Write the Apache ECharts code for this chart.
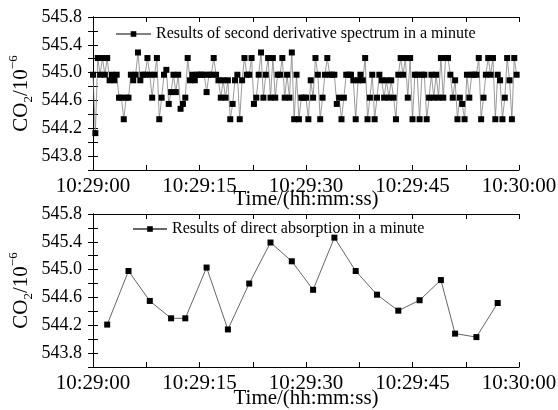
<!DOCTYPE html>
<html>
<head>
<meta charset="utf-8">
<script src="https://cdn.jsdelivr.net/npm/echarts@6/dist/echarts.min.js"></script>
<style>
  html, body { margin: 0; padding: 0; background: #fff; }
  #chart { width: 558px; height: 410px; }
</style>
</head>
<body>
<div id="chart"></div>
<script>
// CO2 readings from the second-derivative method, one every SAMPLE_STEP_S seconds
const SAMPLE_STEP_S = 1 / 3;
const secondDerivValues = [
  544.97, 544.13, 545.21, 544.97, 545.21, 544.97, 545.21, 544.89, 544.97, 544.89,
  544.97, 544.64, 544.64, 544.33, 544.64, 544.64, 544.97, 544.89, 544.97, 545.29,
  544.89, 544.97, 544.97, 545.21, 544.97, 544.64, 544.97, 545.21, 544.33, 544.64,
  544.97, 545.04, 544.55, 544.72, 544.97, 544.72, 544.97, 544.48, 544.55, 544.64,
  545.21, 544.89, 544.97, 544.89, 544.97, 544.97, 544.97, 544.97, 544.72, 544.97,
  544.97, 545.21, 544.97, 544.89, 544.64, 544.89, 544.64, 544.89, 544.33, 544.55,
  544.89, 544.97, 544.33, 544.89, 545.21, 544.97, 544.97, 545.21, 544.55, 544.64,
  544.97, 545.29, 544.64, 544.97, 545.21, 544.64, 545.21, 544.64, 544.97, 544.97,
  545.21, 544.64, 544.97, 544.64, 545.29, 544.33, 544.97, 544.33, 544.64, 544.64,
  544.64, 544.33, 544.89, 544.64, 545.21, 544.97, 544.33, 544.64, 544.97, 545.21,
  544.97, 544.97, 544.97, 544.55, 544.64, 544.33, 544.64, 544.97, 544.97, 544.97,
  544.89, 544.33, 544.89, 544.97, 544.89, 545.21, 544.33, 544.64, 544.97, 544.33,
  544.64, 544.97, 544.89, 544.64, 544.89, 544.64, 544.89, 544.64, 544.33, 544.97,
  545.21, 544.97, 545.21, 544.64, 545.21, 544.33, 544.97, 544.97, 544.33, 544.97,
  544.97, 544.33, 544.64, 544.97, 544.64, 544.97, 544.64, 545.21, 544.64, 545.21,
  545.21, 544.97, 544.64, 544.89, 544.33, 544.64, 544.55, 544.33, 544.97, 544.64,
  544.97, 544.97, 544.97, 545.21, 544.33, 544.64, 544.97, 545.21, 544.97, 545.21,
  544.33, 544.97, 544.89, 544.33, 544.64, 545.21, 544.89, 544.33, 545.21, 544.97
];

// CO2 readings from direct absorption: seconds after 10:29:00 and values
const directTimes = [2, 5, 8, 11, 13, 16, 19, 22, 25, 28, 31, 34, 37, 40, 43, 46, 49, 51, 54, 57];
const directValues = [
  544.21, 544.98, 544.55, 544.30, 544.30, 545.03, 544.14, 544.80, 545.39, 545.12,
  544.71, 545.46, 544.98, 544.64, 544.41, 544.56, 544.85, 544.08, 544.03, 544.52
];

// Axis ticks
const timeTickSeconds = [0, 15, 30, 45, 60];
const timeTickLabels = ['10:29:00', '10:29:15', '10:29:30', '10:29:45', '10:30:00'];
const co2TickLabels = ['543.8', '544.2', '544.6', '545.0', '545.4', '545.8'];

const FONT = 'Liberation Serif';
const GRID_LEFT = 93, GRID_RIGHT = 39, GRID_H = 153;
const grids = [
  { left: GRID_LEFT, right: GRID_RIGHT, top: 17, height: GRID_H, outerBoundsMode: 'none', containLabel: false },
  { left: GRID_LEFT, right: GRID_RIGHT, top: 214, height: GRID_H, outerBoundsMode: 'none', containLabel: false }
];

function timeLabel(v) {
  const k = timeTickSeconds.findIndex(s => Math.abs(s - v) < 1e-6);
  return k < 0 ? '' : timeTickLabels[k];
}
function co2Label(v) {
  const s = v.toFixed(1);
  return co2TickLabels.indexOf(s) >= 0 ? s : '';
}

const tickStyle = { inside: true, length: 5, lineStyle: { color: '#000', width: 1 } };
const lineStyle = { color: '#000', width: 1 };

function xAxes(gridIndex, titleGap) {
  return [
    {
      gridIndex, type: 'value', min: 0, max: 60, interval: 7.5, position: 'bottom',
      axisLine: { lineStyle }, axisTick: tickStyle, splitLine: { show: false },
      axisLabel: { formatter: timeLabel, fontFamily: FONT, fontSize: 21, color: '#000', margin: 6,
                   showMinLabel: true, showMaxLabel: true, hideOverlap: false },
      name: 'Time/(hh:mm:ss)', nameLocation: 'middle', nameGap: titleGap, nameMoveOverlap: false,
      nameTextStyle: { fontFamily: FONT, fontSize: 21, color: '#000' }
    },
    {
      gridIndex, type: 'value', min: 0, max: 60, interval: 7.5, position: 'top',
      axisLine: { lineStyle }, axisTick: tickStyle, splitLine: { show: false },
      axisLabel: { show: false }
    }
  ];
}
function yAxes(gridIndex, labelPadTop) {
  return [
    {
      gridIndex, type: 'value', min: 543.6, max: 545.8, interval: 0.2, position: 'left',
      axisLine: { show: true, lineStyle }, axisTick: tickStyle, splitLine: { show: false },
      axisLabel: { formatter: co2Label, fontFamily: FONT, fontSize: 18, color: '#000', margin: 11,
                   padding: [labelPadTop, 0, 0, 0], showMinLabel: true, showMaxLabel: true },
      name: '{b|CO}{sub|2}{b|/10}{sup|−6}', nameLocation: 'middle', nameGap: 58, nameRotate: 90,
      nameMoveOverlap: false,
      nameTextStyle: {
        fontFamily: FONT, fontSize: 21, color: '#000',
        rich: {
          b: { fontFamily: FONT, fontSize: 21, color: '#000', lineHeight: 28, verticalAlign: 'middle' },
          sub: { fontFamily: FONT, fontSize: 13, color: '#000', lineHeight: 14, verticalAlign: 'bottom' },
          sup: { fontFamily: FONT, fontSize: 13, color: '#000', lineHeight: 14, verticalAlign: 'top' }
        }
      }
    },
    {
      gridIndex, type: 'value', min: 543.6, max: 545.8, interval: 0.2, position: 'right',
      axisLine: { show: true, lineStyle }, axisTick: tickStyle, splitLine: { show: false },
      axisLabel: { show: false }
    }
  ];
}

const chart = echarts.init(document.getElementById('chart'), null, { renderer: 'canvas' });
chart.setOption({
  backgroundColor: '#fff',
  animation: false,
  grid: grids,
  xAxis: [...xAxes(0, 19), ...xAxes(1, 21)],
  yAxis: [...yAxes(0, 11), ...yAxes(1, 17)],
  legend: [
    {
      data: ['Results of second derivative spectrum in a minute'],
      left: 115, top: 26, padding: 0, itemWidth: 35, itemHeight: 7,
      textStyle: { fontFamily: FONT, fontSize: 16, color: '#000' }
    },
    {
      data: ['Results of direct absorption in a minute'],
      left: 132, top: 221, padding: 0, itemWidth: 34, itemHeight: 7,
      textStyle: { fontFamily: FONT, fontSize: 16, color: '#000' }
    }
  ],
  series: [
    {
      name: 'Results of second derivative spectrum in a minute',
      type: 'line', xAxisIndex: 0, yAxisIndex: 0,
      data: secondDerivValues.map((v, i) => [i * SAMPLE_STEP_S, v]),
      symbol: 'rect', symbolSize: 6, showAllSymbol: true,
      itemStyle: { color: '#000' },
      lineStyle: { color: '#808080', width: 0.8 }
    },
    {
      name: 'Results of direct absorption in a minute',
      type: 'line', xAxisIndex: 2, yAxisIndex: 2,
      data: directTimes.map((t, i) => [t, directValues[i]]),
      symbol: 'rect', symbolSize: 6, showAllSymbol: true,
      itemStyle: { color: '#000' },
      lineStyle: { color: '#666', width: 1 }
    }
  ]
});
</script>
</body>
</html>
